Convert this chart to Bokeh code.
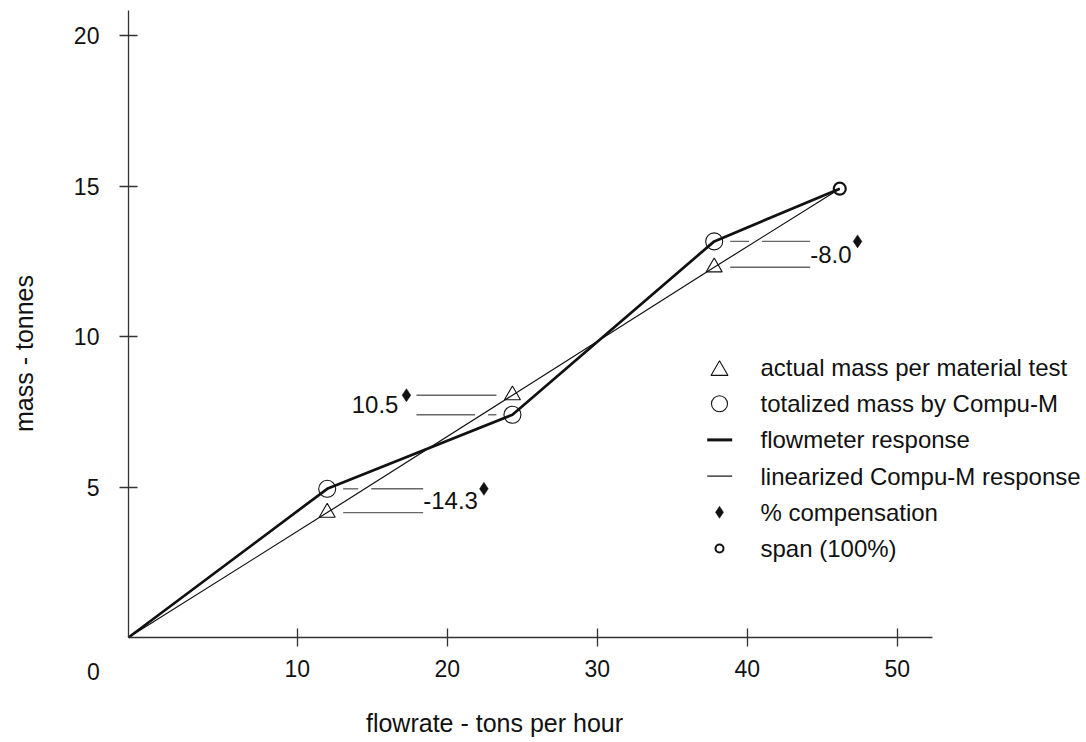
import numpy as np
from bokeh.plotting import figure
from bokeh.models import Range1d, FixedTicker, Label, LinearAxis
from bokeh.embed import file_html
from bokeh.resources import INLINE
from bokeh.core.properties import value

# ---------------- data ----------------
origin_flow = -1.25          # the curves start at the axis corner
origin_mass = 0.0
flow_tests = [12.0, 24.35, 37.8]
actual_mass = [4.15, 8.05, 12.3]        # triangles
totalized_mass = [4.94, 7.40, 13.16]    # circles
span_flow = [46.17]
span_mass = [14.91]
compensation = ["-14.3", "10.5", "-8.0"]
label_side = [1, -1, 1]

x_ticks = [10, 20, 30, 40, 50]
y_ticks = [5, 10, 15, 20]
x_axis_end = 52.35
y_axis_end = 20.83
legend_labels = ["actual mass per material test", "totalized mass by Compu-M",
                 "flowmeter response", "linearized Compu-M response",
                 "% compensation", "span (100%)"]

FONT = "Liberation Sans"
INK = "#111111"
W, H = 1086, 742
PX = 1 / 15.0     # data units per pixel, x
PY = 1 / 30.1     # data units per pixel, y
X0PX, Y0PX = 146.7, 637.0   # canvas pixel of data (0, 0)


def X(px):
    return (px - X0PX) * PX


def Y(py):
    return (Y0PX - py) * PY


p = figure(width=W, height=H,
           x_range=Range1d(X(0), X(W)), y_range=Range1d(Y(H), Y(0)),
           output_backend="svg", toolbar_location=None,
           x_axis_type=None, y_axis_type=None,
           min_border_left=0, min_border_right=0,
           min_border_top=0, min_border_bottom=0)
p.outline_line_color = None
p.grid.visible = False
p.background_fill_color = "white"
p.border_fill_color = "white"

xax = LinearAxis(ticker=FixedTicker(ticks=x_ticks), fixed_location=origin_mass,
                 bounds=(origin_flow, x_axis_end))
yax = LinearAxis(ticker=FixedTicker(ticks=y_ticks), fixed_location=origin_flow,
                 bounds=(origin_mass, y_axis_end))
for ax in (xax, yax):
    ax.major_tick_in = 9
    ax.major_tick_out = 9
    ax.minor_tick_in = 0
    ax.minor_tick_out = 0
    ax.axis_line_color = "#333333"
    ax.major_tick_line_color = "#333333"
    ax.axis_line_width = 1.3
    ax.major_tick_line_width = 1.3
    ax.major_label_text_font = FONT
    ax.major_label_text_font_size = "23px"
    ax.major_label_text_color = INK
xax.major_label_standoff = 13
yax.major_label_standoff = 20
p.add_layout(xax, "below")
p.add_layout(yax, "left")

# ---------------- curves ----------------
meter_x = [origin_flow] + flow_tests + span_flow
meter_y = [origin_mass] + totalized_mass + span_mass
lin_x = [origin_flow] + flow_tests + span_flow
lin_y = [origin_mass] + actual_mass + span_mass

# gray difference segments (drawn first)
seg_x0, seg_x1, seg_y = [], [], []
lab_l = dict(x=[], y=[], t=[])
lab_r = dict(x=[], y=[], t=[])
dia_x, dia_y = [], []
cw = {"-": 0.333, ".": 0.278}
for xf, yt, yc, txt, s in zip(flow_tests, actual_mass, totalized_mass, compensation, label_side):
    near = xf + s * 16 * PX
    far = xf + s * 96 * PX
    lo, hi = min(near, far), max(near, far)
    seg_x0.append(lo); seg_x1.append(hi); seg_y.append(yt)
    cross = float(np.interp(yc, lin_y, lin_x))
    g = 6.5 * PX
    if lo < cross < hi:
        seg_x0 += [lo, cross + g]; seg_x1 += [cross - g, hi]; seg_y += [yc, yc]
    else:
        seg_x0.append(lo); seg_x1.append(hi); seg_y.append(yc)
    ym = (yc + yt) / 2
    w = sum(cw.get(ch, 0.556) for ch in txt) * 24
    if s > 0:
        lab_l["x"].append(far); lab_l["y"].append(ym); lab_l["t"].append(txt)
        dia_x.append(far + (w + 6) * PX)
    else:
        lab_r["x"].append(far - 18 * PX); lab_r["y"].append(ym); lab_r["t"].append(txt)
        dia_x.append(far - 10 * PX)
    dia_y.append(max(yc, yt))

p.segment(x0=seg_x0, y0=seg_y, x1=seg_x1, y1=seg_y, line_color="#666666", line_width=1.4)

p.line(lin_x, lin_y, line_color=INK, line_width=1.2)
p.line(meter_x, meter_y, line_color=INK, line_width=2.7, line_join="round")

p.scatter(flow_tests, actual_mass, marker="triangle", size=16, fill_color=None,
          line_color=INK, line_width=1.1)
p.scatter(flow_tests, totalized_mass, marker="circle", size=17, fill_color=None,
          line_color=INK, line_width=1.1)
p.scatter(span_flow, span_mass, marker="circle", size=12, fill_color=None,
          line_color=INK, line_width=2.2)
p.scatter(dia_x, dia_y, marker="diamond", size=13, fill_color=INK, line_color=INK, line_width=0.5)

for d, al in ((lab_l, "left"), (lab_r, "right")):
    p.text(x=d["x"], y=d["y"], text=d["t"], text_font=value(FONT),
           text_font_size=value("24px"), text_color=INK,
           text_align=al, text_baseline="middle")

# ---------------- legend (drawn by hand) ----------------
lx_mark = X(719)
lx_text = X(760)
lx_l0, lx_l1 = X(706.7), X(731.7)
row0 = Y(367)
step = 36.2 * PY
rows = [row0 - i * step for i in range(len(legend_labels))]

p.scatter([lx_mark], [rows[0] - 3 * PY], marker="triangle", size=17, fill_color=None,
          line_color=INK, line_width=1.1)
p.scatter([lx_mark], [rows[1]], marker="circle", size=16, fill_color=None,
          line_color=INK, line_width=1.1)
p.segment(x0=[lx_l0], y0=[rows[2]], x1=[lx_l1], y1=[rows[2]], line_color=INK, line_width=3)
p.segment(x0=[lx_l0], y0=[rows[3]], x1=[lx_l1], y1=[rows[3]], line_color=INK, line_width=1.2)
p.scatter([lx_mark], [rows[4]], marker="diamond", size=12, fill_color=INK,
          line_color=INK, line_width=0.5)
p.scatter([lx_mark], [rows[5]], marker="circle", size=8, fill_color=None,
          line_color=INK, line_width=2)
p.text(x=[lx_text] * len(legend_labels), y=rows, text=legend_labels,
       text_font=value(FONT), text_font_size=value("24px"), text_color=INK,
       text_align="left", text_baseline="middle")

# ---------------- titles & corner zero ----------------
p.add_layout(Label(x=X(494), y=Y(722), text="flowrate - tons per hour",
                   text_font=FONT, text_font_size="25px", text_color=INK,
                   text_align="center", text_baseline="middle"))
p.add_layout(Label(x=X(23), y=Y(353), text="mass - tonnes",
                   angle=np.pi / 2, text_font=FONT, text_font_size="25px", text_color=INK,
                   text_align="center", text_baseline="middle"))
p.add_layout(Label(x=X(93), y=Y(671.2), text="0",
                   text_font=FONT, text_font_size="23px", text_color=INK,
                   text_align="center", text_baseline="middle"))

open("out.html", "w").write(file_html(p, INLINE))
